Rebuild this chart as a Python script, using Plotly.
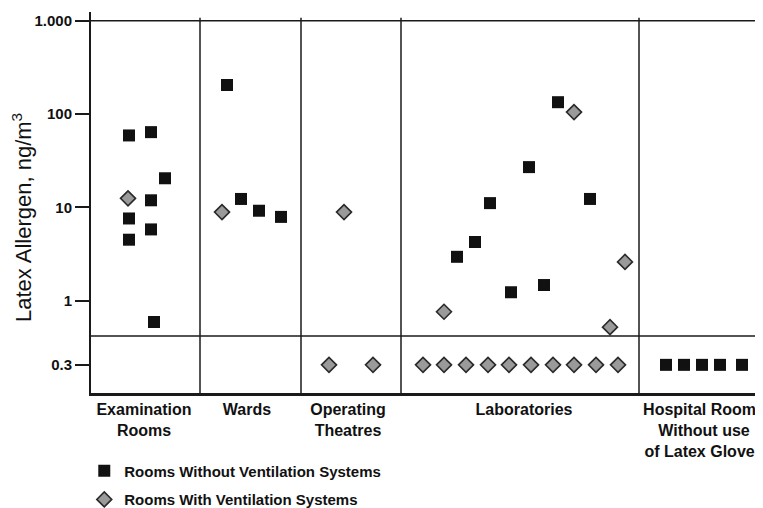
import plotly.graph_objects as go

# ---------------- data ----------------
categories = ["Examination<br>Rooms", "Wards", "Operating<br>Theatres", "Laboratories",
              "Hospital Rooms<br>Without use<br>of Latex Gloves"]
category_centers = [53, 156, 257, 433, 613]
category_bounds = [109, 210, 310, 548]

LOD = 0.3          # detection limit, shown as the "0.3" row
LOD_POS = 0.205    # axis position of the below-limit row
BAND = 0.418       # boundary between measured and below-limit band

# Rooms without ventilation systems (squares)
without_x = [38, 60, 74, 60, 38, 60, 38, 63,
             136, 150, 168, 190,
             366, 384, 399, 420, 438, 453, 467, 499,
             575, 593, 611, 629, 651]
without_y = [59, 64, 20.5, 11.9, 7.6, 5.8, 4.5, 0.59,
             205, 12.3, 9.2, 7.9,
             2.95, 4.25, 11.1, 1.23, 27, 1.47, 134, 12.3,
             0.3, 0.3, 0.3, 0.3, 0.3]

# Rooms with ventilation systems (diamonds)
with_x = [37,
          131,
          253, 238, 282,
          353, 483, 534, 519,
          332, 353, 375, 397, 418, 440, 462, 483, 505, 527]
with_y = [12.5,
          8.9,
          8.9, 0.3, 0.3,
          0.76, 105, 2.6, 0.52,
          0.3, 0.3, 0.3, 0.3, 0.3, 0.3, 0.3, 0.3, 0.3, 0.3]

y_tickvals = [LOD_POS, 1, 10, 100, 1000]
y_ticktext = ["0.3", "1", "10", "100", "1.000"]
y_title = "Latex Allergen, ng/m<sup>3</sup>"


def to_axis(vals):
    return [LOD_POS if v <= LOD else v for v in vals]


FONT = "Liberation Sans, Arial, sans-serif"
LINE = "#1a1a1a"

fig = go.Figure()
fig.add_trace(go.Scatter(
    x=without_x, y=to_axis(without_y), mode="markers",
    name="Rooms Without Ventilation Systems",
    marker=dict(symbol="square", size=12, color="#111111",
                line=dict(color="#111111", width=0)),
    legend="legend", cliponaxis=False))
fig.add_trace(go.Scatter(
    x=with_x, y=to_axis(with_y), mode="markers",
    name="Rooms With Ventilation Systems",
    marker=dict(symbol="diamond", size=11.5, color="#9a9a9a",
                line=dict(color="#2a2a2a", width=1.6)),
    legend="legend2", cliponaxis=False))

shapes = []
for b in category_bounds:
    shapes.append(dict(type="line", xref="x", yref="paper", x0=b, x1=b, y0=0, y1=0.985,
                       line=dict(color=LINE, width=1.5)))
for yv in [1000, BAND]:
    shapes.append(dict(type="line", xref="paper", yref="y", x0=0, x1=1, y0=yv, y1=yv,
                       line=dict(color=LINE, width=1.5)))
fig.update_layout(shapes=shapes)

fig.add_annotation(text=y_title, textangle=-90, xref="paper", yref="paper",
                   x=-0.1027, y=0.462, xanchor="center", yanchor="middle",
                   showarrow=False,
                   font=dict(family=FONT, size=22, color="#111111"))

fig.update_xaxes(range=[0, 672], showgrid=False, zeroline=False, automargin=False,
                 showline=True, linecolor=LINE, linewidth=2.5,
                 tickvals=category_centers, ticktext=categories, ticks="",
                 ticklabeloverflow="allow",
                 tickfont=dict(family=FONT, size=16, color="#111111", weight="bold"))
fig.update_yaxes(type="log", range=[-0.99, 3.094], showgrid=False, zeroline=False,
                 automargin=False,
                 showline=True, linecolor=LINE, linewidth=2,
                 tickvals=y_tickvals, ticktext=y_ticktext,
                 ticks="outside", ticklen=14, tickwidth=1.5, tickcolor=LINE,
                 ticklabeloverflow="allow",
                 tickfont=dict(family=FONT, size=15, color="#111111", weight="bold"))

legend_common = dict(xref="paper", yref="paper", xanchor="left", yanchor="middle",
                     bgcolor="rgba(0,0,0,0)", borderwidth=0,
                     font=dict(family=FONT, size=15, color="#111111", weight="bold"))
# page body has an 8px margin, so the figure is 8px smaller and offset accordingly
fig.update_layout(
    width=755, height=500,
    margin=dict(l=83, r=0, t=4, b=115, autoexpand=False),
    paper_bgcolor="white", plot_bgcolor="white",
    showlegend=True,
    legend=dict(x=-0.01, y=-0.205, **legend_common),
    legend2=dict(x=-0.01, y=-0.28, **legend_common),
)

fig.write_html("out.html")
